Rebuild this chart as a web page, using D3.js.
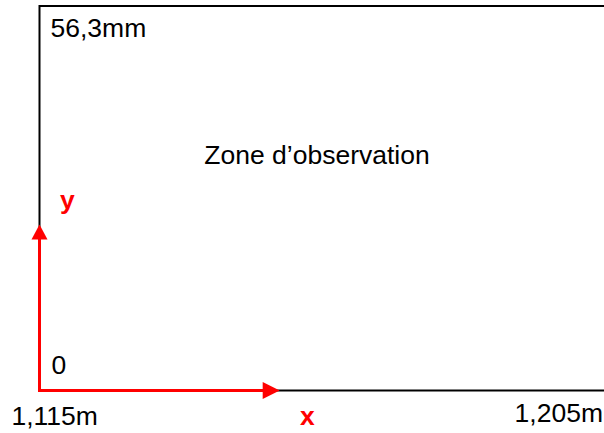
<!DOCTYPE html>
<html><head><meta charset="utf-8">
<script src="https://cdn.jsdelivr.net/npm/d3@7"></script>
<style>html,body{margin:0;padding:0;background:#fff;}svg{display:block;}</style>
</head><body>
<script>
// Data
const xDomain = [1.115, 1.205];          // metres
const yDomain = [0, 56.3];               // mm
const xTickLabels = ["1,115m", "1,205m"];
const yTickLabels = ["0", "56,3mm"];
const axisNames = ["x", "y"];
const arrowEnds = [1.151, 24.3];         // x arrow end (m), y arrow end (mm)
const zoneLabel = ["Zone d\u2019observation"];

const W = 604, H = 433;
const svg = d3.select("body").append("svg").attr("width", W).attr("height", H);
const font = "Liberation Sans, Arial, Helvetica, sans-serif";

const x = d3.scaleLinear().domain(xDomain).range([39.5, 640]);
const y = d3.scaleLinear().domain(yDomain).range([390.5, 6]);

// observation box
svg.append("rect")
  .attr("x", x(xDomain[0])).attr("y", y(yDomain[1]))
  .attr("width", x(xDomain[1]) - x(xDomain[0]))
  .attr("height", y(yDomain[0]) - y(yDomain[1]))
  .attr("fill", "none").attr("stroke", "#000").attr("stroke-width", 2);

// red arrows
const red = "#ff0000";
svg.append("line")
  .attr("x1", x(xDomain[0])).attr("y1", y(0))
  .attr("x2", x(arrowEnds[0]) - 14).attr("y2", y(0))
  .attr("stroke", red).attr("stroke-width", 3);
svg.append("line")
  .attr("x1", x(xDomain[0])).attr("y1", y(0) + 1.5)
  .attr("x2", x(xDomain[0])).attr("y2", y(arrowEnds[1]) + 14)
  .attr("stroke", red).attr("stroke-width", 3);
// arrowheads
const tx = x(arrowEnds[0]), ty = y(0);
svg.append("path")
  .attr("d", `M${tx},${ty} L${tx-17},${ty-8.5} L${tx-17},${ty+8.5} Z`)
  .attr("fill", red);
const vx = x(xDomain[0]), vy = y(arrowEnds[1]);
svg.append("path")
  .attr("d", `M${vx},${vy} L${vx-8},${vy+15} L${vx+8},${vy+15} Z`)
  .attr("fill", red);

// texts
const fs = 26.5;
svg.append("text").text(yTickLabels[1])
  .attr("x", x(xDomain[0]) + 11).attr("y", 37)
  .attr("font-family", font).attr("font-size", fs).attr("fill", "#000");
svg.append("text").text(yTickLabels[0])
  .attr("x", x(xDomain[0]) + 12).attr("y", y(0) - 17)
  .attr("font-family", font).attr("font-size", fs).attr("fill", "#000");
svg.append("text").text(xTickLabels[0])
  .attr("x", x(xDomain[0]) - 28).attr("y", 425)
  .attr("font-family", font).attr("font-size", fs).attr("fill", "#000");
svg.append("text").text(xTickLabels[1])
  .attr("x", 603).attr("y", 422).attr("text-anchor", "end")
  .attr("font-family", font).attr("font-size", fs).attr("fill", "#000");
svg.append("text").text(zoneLabel[0])
  .attr("x", 317).attr("y", 164).attr("text-anchor", "middle")
  .attr("font-family", font).attr("font-size", fs).attr("fill", "#000");
svg.append("text").text(axisNames[0])
  .attr("x", 300).attr("y", 425)
  .attr("font-family", font).attr("font-size", fs).attr("font-weight", "bold").attr("fill", red);
svg.append("text").text(axisNames[1])
  .attr("x", 60).attr("y", 209)
  .attr("font-family", font).attr("font-size", fs).attr("font-weight", "bold").attr("fill", red);
</script>
</body></html>
